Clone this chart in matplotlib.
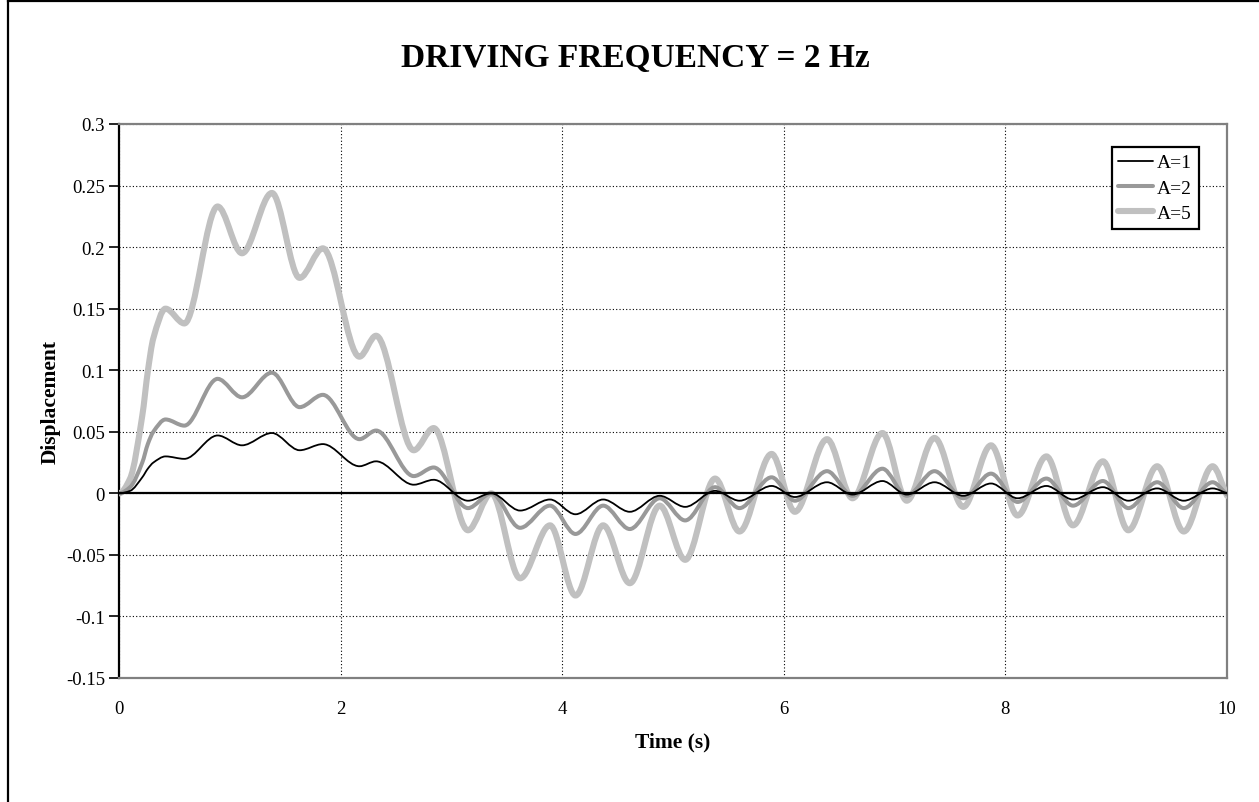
import numpy as np
import matplotlib
matplotlib.use('Agg')
from matplotlib import pyplot as plt
from matplotlib.path import Path
from matplotlib.patches import PathPatch
from matplotlib.lines import Line2D

plt.rcParams['font.family'] = ['Liberation Serif', 'DejaVu Serif']

# values (turning points of the response)
time_s = [0.00, 0.10, 0.21, 0.26, 0.31, 0.42, 0.59, 0.89, 1.11, 1.38,
          1.63, 1.84, 2.17, 2.32, 2.66, 2.84, 3.15, 3.36, 3.62, 3.89,
          4.12, 4.37, 4.61, 4.88, 5.11, 5.38, 5.60, 5.89, 6.10, 6.39,
          6.62, 6.89, 7.11, 7.36, 7.62, 7.87, 8.11, 8.37, 8.61, 8.88,
          9.11, 9.37, 9.61, 9.87, 10.0]
disp_a1 = [0, 0.002, 0.013, 0.020, 0.025, 0.030, 0.028, 0.047, 0.039, 0.049,
           0.035, 0.040, 0.022, 0.026, 0.007, 0.011, -0.006, 0.000, -0.014, -0.005,
           -0.017, -0.005, -0.015, -0.002, -0.011, 0.002, -0.006, 0.006, -0.003, 0.009,
           -0.001, 0.010, -0.001, 0.009, -0.002, 0.008, -0.004, 0.006, -0.005, 0.005,
           -0.006, 0.004, -0.006, 0.004, 0.000]
disp_a2 = [0, 0.005, 0.025, 0.040, 0.050, 0.060, 0.055, 0.093, 0.078, 0.098,
           0.070, 0.080, 0.044, 0.051, 0.014, 0.021, -0.012, 0.000, -0.028, -0.010,
           -0.033, -0.010, -0.029, -0.004, -0.022, 0.005, -0.012, 0.013, -0.006, 0.018,
           -0.002, 0.020, -0.002, 0.018, -0.004, 0.016, -0.007, 0.012, -0.010, 0.010,
           -0.012, 0.009, -0.012, 0.009, -0.001]
disp_a5 = [0, 0.012, 0.063, 0.099, 0.126, 0.150, 0.138, 0.233, 0.195, 0.244,
           0.175, 0.199, 0.111, 0.128, 0.035, 0.053, -0.030, 0.000, -0.069, -0.026,
           -0.083, -0.026, -0.073, -0.010, -0.054, 0.012, -0.031, 0.032, -0.015, 0.044,
           -0.004, 0.049, -0.006, 0.045, -0.011, 0.039, -0.018, 0.030, -0.026, 0.026,
           -0.030, 0.022, -0.031, 0.022, -0.002]
series_names = ['A=1', 'A=2', 'A=5']
xtick_vals = [0, 2, 4, 6, 8, 10]
xtick_labels = ['0', '2', '4', '6', '8', '10']
ytick_vals = [-0.15, -0.1, -0.05, 0, 0.05, 0.1, 0.15, 0.2, 0.25, 0.3]
ytick_labels = ['-0.15', '-0.1', '-0.05', '0', '0.05', '0.1', '0.15', '0.2', '0.25', '0.3']


def smooth_path(x, y):
    # smoothed line (bezier through the points, like a spreadsheet's smoothed line)
    x = np.asarray(x, float)
    y = np.asarray(y, float)
    h = np.diff(x)
    d = np.diff(y) / h
    m = np.zeros_like(y)
    for i in range(1, len(y) - 1):
        if d[i - 1] * d[i] > 0:
            m[i] = 2.0 / (1.0 / d[i - 1] + 1.0 / d[i])
    m[0] = 0.0
    m[-1] = d[-1]
    verts = [(x[0], y[0])]
    codes = [Path.MOVETO]
    for i in range(len(x) - 1):
        verts += [(x[i] + h[i] / 3, y[i] + m[i] * h[i] / 3),
                  (x[i + 1] - h[i] / 3, y[i + 1] - m[i + 1] * h[i] / 3),
                  (x[i + 1], y[i + 1])]
        codes += [Path.CURVE4] * 3
    return Path(verts, codes)


fig = plt.figure(figsize=(12.59, 8.03), dpi=100)
ax = fig.add_axes([119 / 1259, 1 - 679 / 803, (1227 - 119) / 1259, (679 - 125) / 803])

styles = [('black', 1.3, 5), ('#999999', 2.9, 4), ('#c0c0c0', 4.4, 3)]
handles = []
for yv, name, (col, lw, z) in zip([disp_a1, disp_a2, disp_a5], series_names, styles):
    patch = PathPatch(smooth_path(time_s, yv), fill=False, edgecolor=col, lw=lw,
                      capstyle='round', joinstyle='round', zorder=z)
    ax.add_patch(patch)
    handles.append(Line2D([], [], color=col, lw=lw, solid_capstyle='round', label=name))

ax.set_xlim(0, 10)
ax.set_ylim(-0.15, 0.3)
ax.set_xticks(xtick_vals)
ax.set_xticklabels(xtick_labels)
ax.set_yticks(ytick_vals)
ax.set_yticklabels(ytick_labels)
ax.tick_params(axis='x', length=0, pad=16, labelsize=13.5)
ax.tick_params(axis='y', direction='out', length=7, width=1.2, pad=3, labelsize=13.5)

ax.grid(True, color='black', linestyle=(0, (1, 2)), linewidth=0.8, zorder=1)
ax.set_axisbelow(True)
ax.axhline(0, color='black', lw=1.6, zorder=6)

for side in ['top', 'right', 'bottom']:
    ax.spines[side].set_color('#808080')
    ax.spines[side].set_linewidth(1.6)
ax.spines['left'].set_color('black')
ax.spines['left'].set_linewidth(1.6)

ax.set_xlabel('Time (s)', fontsize=15.5, fontweight='bold', labelpad=10)
ax.set_ylabel('Displacement', fontsize=15.5, fontweight='bold', labelpad=4)

fig.text(635 / 1259, 1 - 59 / 803, 'DRIVING FREQUENCY = 2 Hz', ha='center', va='center',
         fontsize=24, fontweight='bold')

leg = ax.legend(handles=handles, loc='upper right',
                bbox_to_anchor=(1199 / 1259, 1 - 148 / 803), bbox_transform=fig.transFigure,
                borderaxespad=0, fancybox=False, framealpha=1, edgecolor='black',
                fontsize=14, handlelength=1.8, handletextpad=0.2,
                borderpad=0.35, labelspacing=0.4)
leg.get_frame().set_linewidth(1.6)
leg.set_zorder(10)

# outer chart border (left and top visible)
fig.add_artist(Line2D([8 / 1259, 8 / 1259], [0, 1 - 2 / 803], color='black', lw=1.6,
                      transform=fig.transFigure))
fig.add_artist(Line2D([8 / 1259, 1], [1 - 2 / 803, 1 - 2 / 803], color='black', lw=1.6,
                      transform=fig.transFigure))

fig.savefig('out.png', dpi=100)
